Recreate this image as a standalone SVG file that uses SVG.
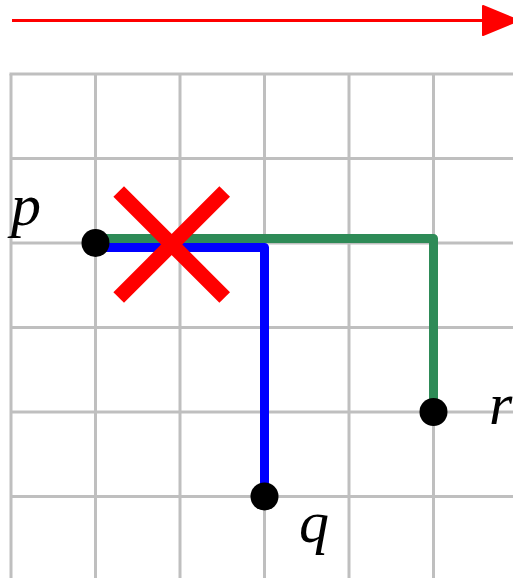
<svg xmlns="http://www.w3.org/2000/svg" width="513" height="578" viewBox="0 0 513 578">
<style>
.grid line{stroke:#bfbfbf;stroke-width:3}
.lbl{font-family:"Liberation Serif",serif;font-style:italic;font-size:60px;fill:#000}
.dot{fill:#000}
.x{stroke:#ff0000;stroke-width:15}
</style>
<rect width="513" height="578" fill="#fff"/>
<g class="grid">
<line x1="11" y1="74" x2="11" y2="578"/>
<line x1="95.5" y1="74" x2="95.5" y2="578"/>
<line x1="180" y1="74" x2="180" y2="578"/>
<line x1="264.5" y1="74" x2="264.5" y2="578"/>
<line x1="349" y1="74" x2="349" y2="578"/>
<line x1="433.5" y1="74" x2="433.5" y2="578"/>
<line x1="9.5" y1="74" x2="513" y2="74"/>
<line x1="11" y1="158.5" x2="513" y2="158.5"/>
<line x1="11" y1="243" x2="513" y2="243"/>
<line x1="11" y1="327.5" x2="513" y2="327.5"/>
<line x1="11" y1="412" x2="513" y2="412"/>
<line x1="11" y1="496.5" x2="513" y2="496.5"/>
</g>
<g id="connectors">
<line x1="12" y1="20.5" x2="484" y2="20.5" stroke="#ff0000" stroke-width="3"/>
<path d="M483,6 L518,20.5 L483,35 z" fill="#ff0000" stroke="#ff0000" stroke-width="2" stroke-linejoin="round"/>
<path d="M95.5,238.5 L433.5,238.5 L433.5,412" fill="none" stroke="#2e8b57" stroke-width="9" stroke-linejoin="round"/>
<path d="M95.5,247.5 L264.5,247.5 L264.5,496.5" fill="none" stroke="#0000ff" stroke-width="9" stroke-linejoin="round"/>
</g>
<g id="cross">
<line class="x" x1="118.7" y1="191.5" x2="224.7" y2="297.5"/>
<line class="x" x1="224.7" y1="191.5" x2="118.7" y2="297.5"/>
</g>
<g id="node-p">
<circle class="dot" cx="95.5" cy="243" r="14"/>
<text class="lbl" x="11" y="225">p</text>
</g>
<g id="node-q">
<circle class="dot" cx="264.5" cy="496.5" r="14"/>
<text class="lbl" x="299" y="542">q</text>
</g>
<g id="node-r">
<circle class="dot" cx="433.5" cy="412" r="14"/>
<text class="lbl" x="489" y="424">r</text>
</g>
</svg>
